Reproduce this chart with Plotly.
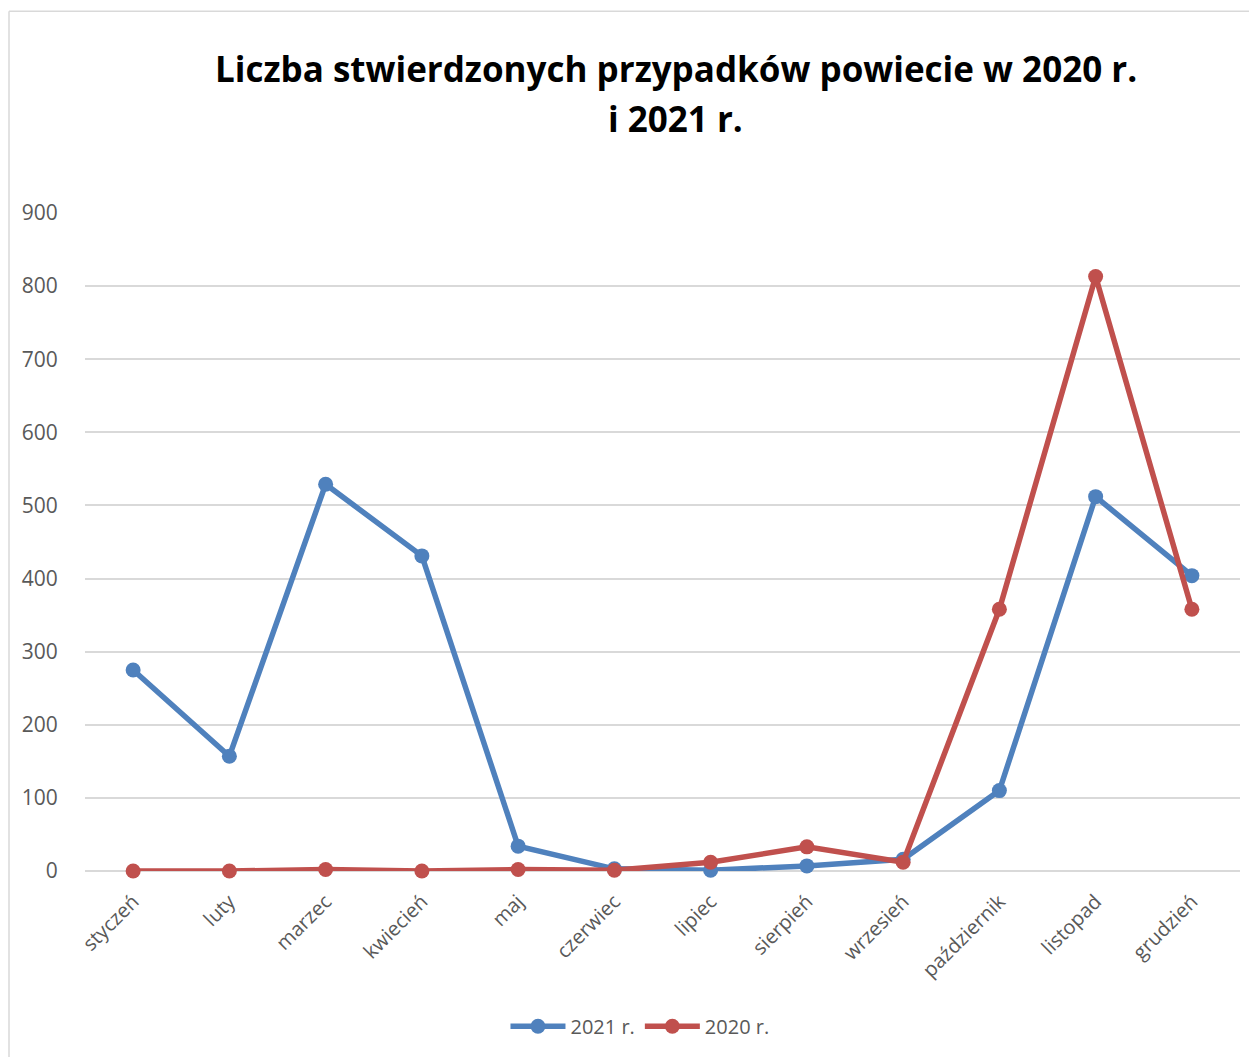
import plotly.graph_objects as go

months = ["styczeń", "luty", "marzec", "kwiecień", "maj", "czerwiec", "lipiec",
          "sierpień", "wrzesień", "październik", "listopad", "grudzień"]
cases_2021 = [275, 157, 529, 431, 34, 3, 1, 7, 16, 110, 512, 404]
cases_2020 = [0, 0, 2, 0, 2, 1, 12, 33, 12, 358, 813, 358]
y_ticks = [0, 100, 200, 300, 400, 500, 600, 700, 800, 900]
title_lines = ["Liczba stwierdzonych przypadków powiecie w 2020 r.", "i 2021 r."]

BLUE = "#4F81BD"
RED = "#C0504D"
GRID = "#D9D9D9"
TXT = "#595959"

W, H = 1249, 1049

fig = go.Figure()
fig.add_trace(go.Scatter(x=months, y=cases_2021, name="2021 r.", mode="lines+markers",
                         line=dict(color=BLUE, width=5.5), marker=dict(color=BLUE, size=15),
                         cliponaxis=False))
fig.add_trace(go.Scatter(x=months, y=cases_2020, name="2020 r.", mode="lines+markers",
                         line=dict(color=RED, width=5.5), marker=dict(color=RED, size=15),
                         cliponaxis=False))

title_x = (676 - 85) / 1155
annotations = [
    dict(text=title_lines[0], xref="paper", yref="paper", x=title_x, y=1.2194,
         xanchor="center", yanchor="middle", showarrow=False,
         font=dict(family="Open Sans", size=35, color="black", weight="bold")),
    dict(text=title_lines[1], xref="paper", yref="paper", x=title_x, y=1.1435,
         xanchor="center", yanchor="middle", showarrow=False,
         font=dict(family="Open Sans", size=35, color="black", weight="bold")),
]

fig.update_layout(
    width=W, height=H,
    margin=dict(l=77, r=17, t=205, b=185),
    paper_bgcolor="white", plot_bgcolor="white",
    font=dict(family="Open Sans", color=TXT, size=20),
    annotations=annotations,
    showlegend=True,
    legend=dict(orientation="h", x=0.4805, xanchor="center", y=-0.234, yanchor="middle",
                font=dict(size=20, color=TXT), itemwidth=55),
    xaxis=dict(type="category", range=[-0.5, 11.5], showgrid=False, zeroline=False,
               showline=False, tickangle=-45, ticks="outside", ticklen=10,
               tickcolor="rgba(0,0,0,0)", tickfont=dict(size=20, color=TXT)),
    yaxis=dict(range=[0, 900], tickvals=y_ticks, showgrid=True, gridcolor=GRID, gridwidth=1.5,
               zeroline=True, zerolinecolor=GRID, zerolinewidth=1.5, showline=False,
               ticks="outside", ticklen=22, tickcolor="rgba(0,0,0,0)",
               tickfont=dict(size=21, color=TXT)),
    shapes=[
        dict(type="line", xref="paper", yref="paper", x0=-0.0658, x1=-0.0658, y0=1.3065, y1=-0.4,
             line=dict(color=GRID, width=1.5)),
        dict(type="line", xref="paper", yref="paper", x0=-0.0658, x1=1.2, y0=1.3065, y1=1.3065,
             line=dict(color=GRID, width=1.5)),
    ],
)

fig.write_html("out.html")
